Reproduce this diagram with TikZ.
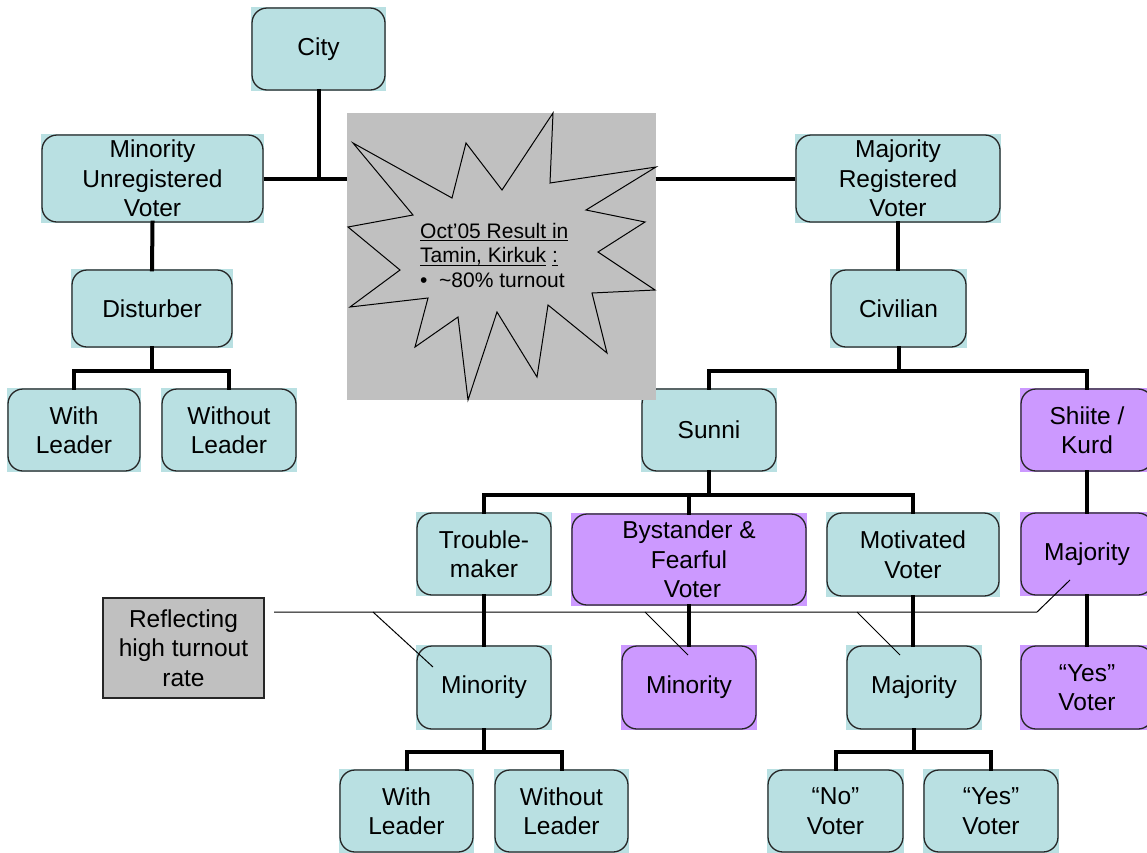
\documentclass[tikz,border=0pt]{standalone}
\usepackage{fontspec}
\setmainfont{Liberation Sans}
\usetikzlibrary{backgrounds}

\definecolor{tealfill}{HTML}{B9E0E2}
\definecolor{purpfill}{HTML}{CC99FF}
\definecolor{greyfill}{HTML}{C0C0C0}

% underline drawn as a rule under the text box
\newcommand\myul[1]{\setbox0\hbox{#1}\rlap{\rule[-2.6pt]{\wd0}{1pt}}\box0}

\tikzset{
  box/.style={draw=black!85, line width=1.3pt, rounded corners=15pt, inner sep=0pt,
    align=center, font=\fontsize{24.5}{29.5}\selectfont},
  conn/.style={line width=4pt, line cap=rect},
  callout/.style={line width=1pt},
  notebox/.style={draw=black!85, line width=1.3pt, fill=greyfill, inner sep=0pt,
    align=center, font=\fontsize{24.5}{29.5}\selectfont},
}

\begin{document}
\begin{tikzpicture}[x=1pt, y=-1pt]
\useasboundingbox (0,0) rectangle (1147,852);

% tree nodes (centre x, centre y, width, height in px)
\node[box, minimum width=133pt, minimum height=82pt] (city)    at (318.5,49)  {City};
\node[box, minimum width=221pt, minimum height=87pt] (minu)    at (152.5,178.5) {Minority\\Unregistered\\Voter};
\node[box, minimum width=204pt, minimum height=87pt] (majr)    at (898,178.5) {Majority\\Registered\\Voter};
\node[box, minimum width=160pt, minimum height=77pt] (dist)    at (152,308.5) {Disturber};
\node[box, minimum width=135pt, minimum height=77pt] (civ)     at (898.5,308.5) {Civilian};
\node[box, minimum width=132pt, minimum height=82pt] (wla)     at (74,430)    {With\\Leader};
\node[box, minimum width=134pt, minimum height=82pt] (wola)    at (229,430)   {Without\\Leader};
\node[box, minimum width=134pt, minimum height=82pt] (sunni)   at (709,430)   {Sunni};
\node[box, minimum width=132pt, minimum height=82pt] (shiite)  at (1087,430)  {Shiite /\\Kurd};
\node[box, minimum width=134pt, minimum height=82pt] (trouble) at (484,554)   {Trouble-\\maker};
\node[box, minimum width=234pt, minimum height=91pt] (bystand) at (689,559.5) {Bystander \&\\Fearful\\\ Voter};
\node[box, minimum width=172pt, minimum height=83pt] (motiv)   at (913,554.5) {Motivated\\Voter};
\node[box, minimum width=132pt, minimum height=82pt] (majp)    at (1087,554)  {Majority};
\node[box, minimum width=134pt, minimum height=83pt] (mint)    at (484,687.5) {Minority};
\node[box, minimum width=134pt, minimum height=83pt] (minp)    at (689,687.5) {Minority};
\node[box, minimum width=134pt, minimum height=83pt] (majt)    at (914,687.5) {Majority};
\node[box, minimum width=132pt, minimum height=83pt] (yesp)    at (1087,687.5) {“Yes”\\Voter};
\node[box, minimum width=133pt, minimum height=82pt] (wlb)     at (406.5,811) {With\\Leader};
\node[box, minimum width=133pt, minimum height=82pt] (wolb)    at (561.5,811) {Without\\Leader};
\node[box, minimum width=135pt, minimum height=82pt] (novote)  at (835.5,811) {“No”\\Voter};
\node[box, minimum width=134pt, minimum height=82pt] (yesvote) at (991,811)   {“Yes”\\Voter};

% square-cornered fills behind the rounded outlines
\begin{scope}[on background layer]
  \foreach \n in {city,minu,majr,dist,civ,wla,wola,sunni,trouble,motiv,mint,majt,wlb,wolb,novote,yesvote}
    \fill[tealfill] (\n.south west) rectangle (\n.north east);
  \foreach \n in {shiite,bystand,majp,minp,yesp}
    \fill[purpfill] (\n.south west) rectangle (\n.north east);
\end{scope}

% connectors
\draw[conn] (city.south) -- (city.south |- minu.east);
\draw[conn] (minu.south) -- (dist.north);
\draw[conn] (majr.south) -- (majr.south |- civ.north);
\draw[conn] (dist.south) -- ([yshift=17pt]dist.south |- wla.north);
\draw[conn] (wla.north) -- ++(0,-17) -| (wola.north);
\draw[conn] (civ.south) -- ([yshift=17pt]civ.south |- sunni.north);
\draw[conn] (sunni.north) -- ++(0,-17) -| (shiite.north);
\draw[conn] (sunni.south) -- ([yshift=17pt]sunni.south |- trouble.north);
\draw[conn] (trouble.north) -- ++(0,-17) -| (motiv.north);
\draw[conn] (bystand.north) -- ++(0,-17);
\draw[conn] (shiite.south) -- (majp.north);
\draw[conn] (majp.south) -- (yesp.north);
\draw[conn] (trouble.south) -- (mint.north);
\draw[conn] (bystand.south) -- (minp.north);
\draw[conn] (motiv.south) -- (motiv.south |- majt.north);
\draw[conn] (mint.south) -- ([yshift=17pt]mint.south |- wlb.north);
\draw[conn] (wlb.north) -- ++(0,-17) -| (wolb.north);
\draw[conn] (majt.south) -- ([yshift=17pt]majt.south |- novote.north);
\draw[conn] (novote.north) -- ++(0,-17) -| (yesvote.north);

% explosion callout on grey panel
\node[fill=greyfill, minimum width=309pt, minimum height=287pt, inner sep=0pt] (burst) at (501.5,256.5) {};
\draw[conn, line cap=butt] (minu.east) -- (burst.west |- minu.east);
\draw[conn, line cap=butt] (majr.west) -- (burst.east |- majr.west);
\draw[line width=1pt, line join=miter]
  (353,143) -- (452,198) -- (466,143) -- (502,190) -- (553,113) -- (550,183)
  -- (656,167) -- (586,210) -- (645,222) -- (598,252) -- (655,290) -- (592,293)
  -- (607,353) -- (548,305) -- (537,377) -- (497,312) -- (468,400) -- (458,317)
  -- (415,347) -- (428,298) -- (350,307) -- (400,270) -- (348,227) -- (413,215) -- cycle;
\node[anchor=north west, align=left, inner sep=0pt,
      font=\fontsize{21}{24.5}\selectfont] (bursttext) at (420,223)
  {\myul{Oct’05 Result in}\\\myul{Tamin, Kirkuk}\hspace{6pt}\myul{:}\\•\ \ \char`~80\% turnout};

% note box with its callout lines
\node[notebox, minimum width=161pt, minimum height=100pt] (reflect) at (183.5,648) {Reflecting\\high turnout\\rate};
\coordinate (lead)  at (274,612);
\coordinate (bend)  at (1037,612);
\coordinate (tipa)  at (1070,580);
\coordinate (knee1) at (373,612);
\coordinate (tip1)  at (433,667);
\coordinate (knee2) at (645,612);
\coordinate (tip2)  at (688,655);
\coordinate (knee3) at (857,612);
\coordinate (tip3)  at (900,655);
\draw[callout] (lead) -- (bend) -- (tipa);
\draw[callout] (knee1) -- (tip1);
\draw[callout] (knee2) -- (tip2);
\draw[callout] (knee3) -- (tip3);
\end{tikzpicture}
\end{document}
